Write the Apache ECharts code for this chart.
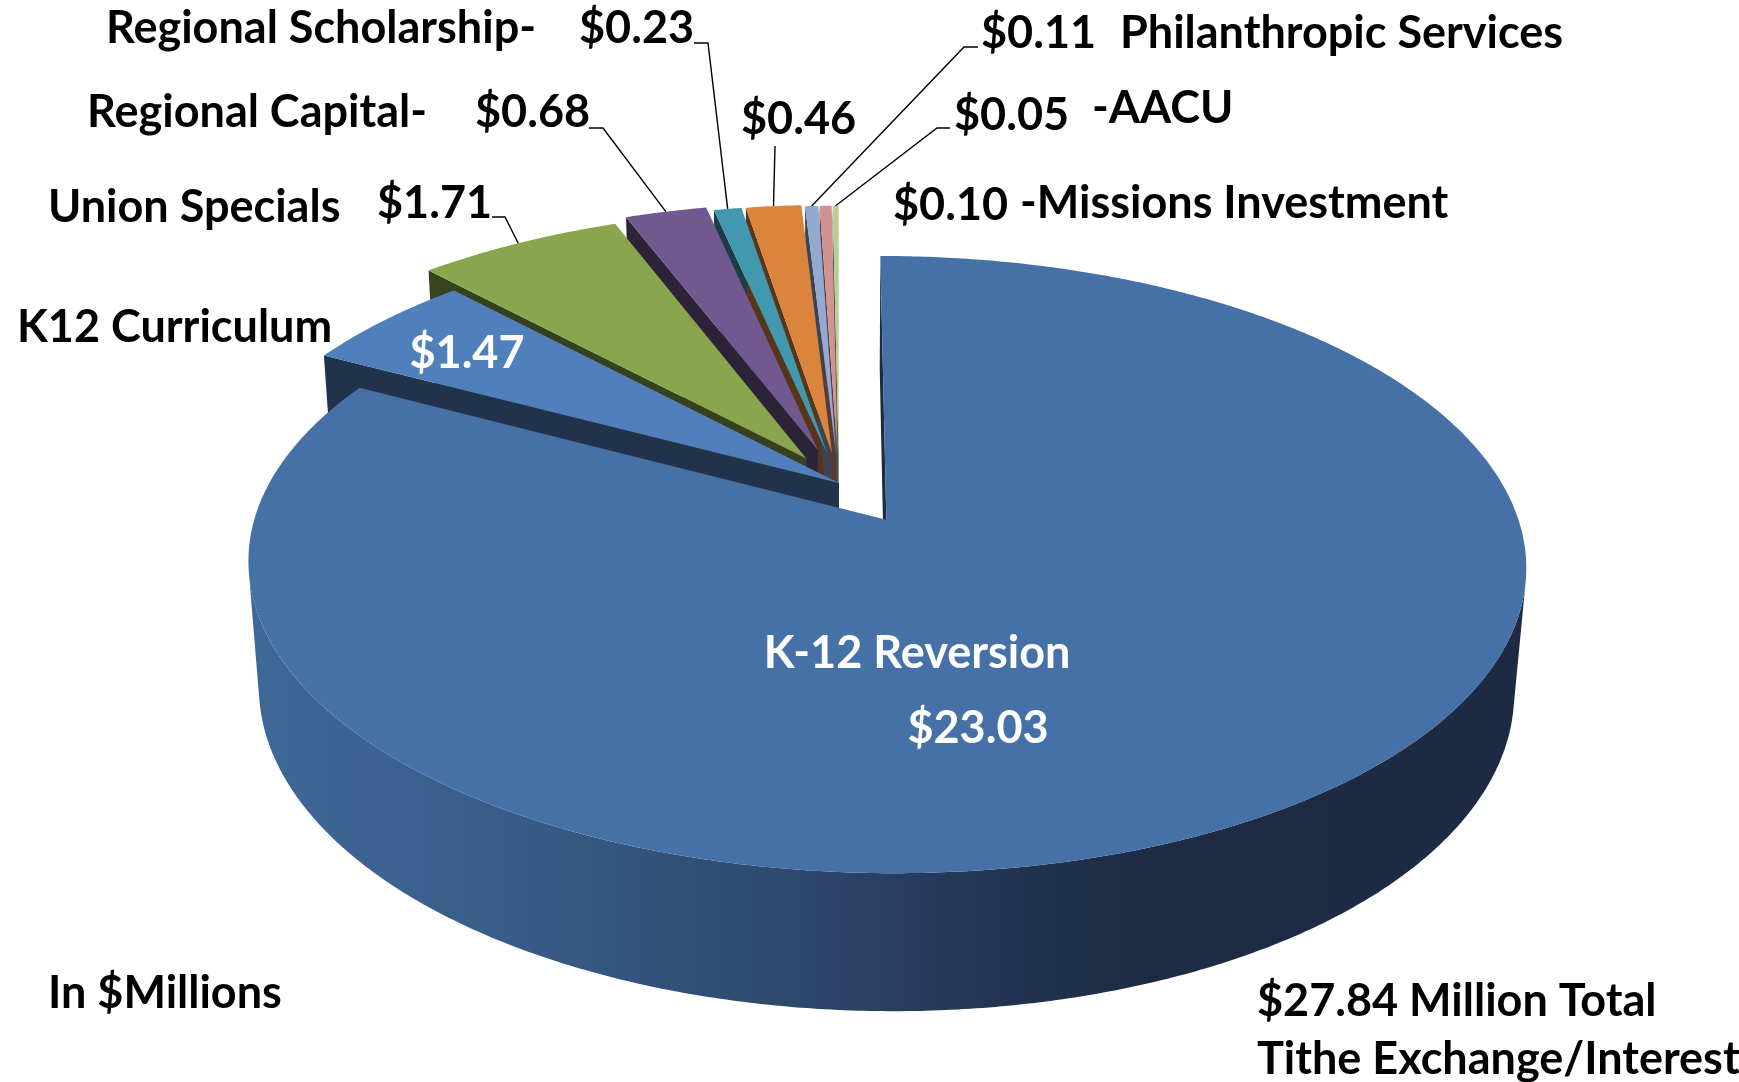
<!DOCTYPE html>
<html>
<head>
<meta charset="utf-8">
<script src="https://cdn.jsdelivr.net/npm/echarts@6/dist/echarts.min.js"></script>
<style>
  html, body { margin: 0; padding: 0; background: #fff; }
  #chart { width: 1739px; height: 1082px; }
</style>
</head>
<body>
<div id="chart"></div>
<script>
// slice data, clockwise from 12 o'clock
const categories = ['K-12 Reversion', 'K12 Curriculum', 'Union Specials', 'Regional Capital-',
  'Regional Scholarship-', '', 'Philanthropic Services', '-Missions Investment', '-AACU'];
const values = [23.03, 1.47, 1.71, 0.68, 0.23, 0.46, 0.11, 0.10, 0.05];
const colors = ['#4571A6', '#4F80BC', '#89A54E', '#71588F', '#4198AF', '#DB843D', '#93A9CF', '#D19392', '#B9CD96'];
const explodeBy = [0.145, 0, 0.1, 0.12, 0.105, 0.105, 0.1, 0.1, 0.1];
const notes = ['In $Millions', '$27.84 Million Total', 'Tithe Exchange/Interest'];

// label placement (pixels), leader line elbows
const labelCfg = [
  { name: [917, 653, 'center', '#fff'], value: [978, 728, 'center', '#fff'] },
  { name: [17, 327, 'left', '#000'], value: [467, 353, 'center', '#fff'] },
  { name: [48, 207, 'left', '#000'], value: [377, 203, 'left', '#000'], line: [[492, 217], [505, 217]] },
  { name: [427, 112, 'right', '#000'], value: [475, 112, 'left', '#000'], line: [[589, 128], [603, 128]] },
  { name: [536, 28, 'right', '#000'], value: [579, 28, 'left', '#000'], line: [[694, 43], [708, 43]] },
  { value: [741, 119, 'left', '#000'], line: [[775, 146]] },
  { value: [981, 33, 'left', '#000'], name: [1120, 33, 'left', '#000'], line: [[978, 47], [964, 47]] },
  { value: [893, 205, 'left', '#000'], name: [1020, 203, 'left', '#000'] },
  { value: [954, 115, 'left', '#000'], name: [1092, 108, 'left', '#000'], line: [[950, 128], [937, 128]] }
];

const FONT = 'Lato';
const FS = 45;

// simple perspective camera for the 3d pie
const view = { cx: 839, cy: 483, F: 3850, D: 6.2, tilt: 28, H: 0.228 };
const sn = Math.sin(view.tilt * Math.PI / 180), cs = Math.cos(view.tilt * Math.PI / 180);

function depth(X, Y, Z) { return view.D - sn * Y - cs * Z; }
function proj(X, Y, Z) {
  const d = depth(X, Y, Z);
  return [view.cx + view.F * X / d, view.cy - view.F * (cs * Y - sn * Z) / d];
}
function shade(hex, k) {
  const n = parseInt(hex.slice(1), 16);
  const r = ((n >> 16) & 255) * k, g = ((n >> 8) & 255) * k, b = (n & 255) * k;
  return 'rgb(' + Math.round(r) + ',' + Math.round(g) + ',' + Math.round(b) + ')';
}

const total = values.reduce((a, b) => a + b, 0);
const startAngles = [], endAngles = [];
let acc = 0;
values.forEach(v => {
  startAngles.push(acc / total * 2 * Math.PI);
  acc += v;
  endAngles.push(acc / total * 2 * Math.PI);
});

function textEl(txt, cfg) {
  return {
    type: 'text', z2: 3000,
    style: {
      text: txt, x: cfg[0], y: cfg[1], fill: cfg[3],
      align: cfg[2], textAlign: cfg[2], verticalAlign: 'middle', textVerticalAlign: 'middle',
      fontFamily: FONT, fontWeight: 'bold', fontSize: FS
    }
  };
}

function renderSlice(params, api) {
  const i = params.dataIndex;
  const val = api.value(0);
  const a0 = startAngles[i], a1 = endAngles[i], am = (a0 + a1) / 2;
  const e = explodeBy[i];
  const ox = e * Math.sin(am), oz = -e * Math.cos(am);
  const H = view.H;
  const rim = (t, y) => proj(ox + Math.sin(t), y, oz - Math.cos(t));
  const children = [];
  const n = Math.max(2, Math.ceil((a1 - a0) / (Math.PI / 360)));
  const ts = [];
  for (let k = 0; k <= n; k++) ts.push(a0 + (a1 - a0) * k / n);

  // top face
  const top = [proj(ox, 0, oz)].concat(ts.map(t => rim(t, 0)));
  children.push({ type: 'polygon', z2: 2000, shape: { points: top }, style: { fill: colors[i] } });

  // outer wall, only the part facing the camera
  const vis = ts.filter(t => -view.D * cs * Math.cos(t) - (Math.sin(t) * ox - Math.cos(t) * oz) - 1 > 0);
  if (vis.length > 1) {
    const pts = vis.map(t => rim(t, 0)).concat(vis.slice().reverse().map(t => rim(t, -H)));
    const tm = vis[Math.floor(vis.length / 2)];
    const dd = depth(ox + Math.sin(tm), -H / 2, oz - Math.cos(tm));
    const fill = i === 0
      ? new echarts.graphic.LinearGradient(0, 0, 1, 0, [
          { offset: 0, color: '#3f6898' },
          { offset: 0.2, color: '#385d8a' },
          { offset: 0.43, color: '#2d486c' },
          { offset: 0.6, color: '#213350' },
          { offset: 0.7, color: '#1d2c44' },
          { offset: 1, color: '#1c2b43' }
        ])
      : shade(colors[i], 0.45);
    children.push({ type: 'polygon', z2: Math.round(1000 - dd * 100), shape: { points: pts }, style: { fill: fill } });
  }

  // radial faces
  [[a0, -1], [a1, 1]].forEach(([t, sg]) => {
    const tc = view.D * cs * Math.sin(t) - Math.cos(t) * ox - Math.sin(t) * oz;
    if (sg * tc <= 0) return;
    const pts = [proj(ox, 0, oz), rim(t, 0), rim(t, -H), proj(ox, -H, oz)];
    const dd = depth(ox + Math.sin(t) / 2, -H / 2, oz - Math.cos(t) / 2);
    children.push({ type: 'polygon', z2: Math.round(1000 - dd * 100), shape: { points: pts },
      style: { fill: shade(colors[i], 0.4) } });
  });

  // labels and leader lines
  const cfg = labelCfg[i];
  if (cfg.name && categories[i]) children.push(textEl(categories[i], cfg.name));
  if (cfg.value) children.push(textEl('$' + val.toFixed(2), cfg.value));
  if (cfg.line) {
    const anchor = rim(am, 0);
    children.push({ type: 'polyline', z2: 3000, shape: { points: cfg.line.concat([anchor]) },
      style: { stroke: '#000', lineWidth: 1.4, fill: null } });
  }
  return { type: 'group', children: children };
}

const chart = echarts.init(document.getElementById('chart'));
chart.setOption({
  backgroundColor: '#fff',
  animation: false,
  graphic: [
    { type: 'text', x: 48, y: 993, style: { text: notes[0], fill: '#000', font: 'bold ' + FS + 'px ' + FONT, textVerticalAlign: 'middle', verticalAlign: 'middle' } },
    { type: 'text', x: 1257, y: 1001, style: { text: notes[1], fill: '#000', font: 'bold ' + FS + 'px ' + FONT, textVerticalAlign: 'middle', verticalAlign: 'middle' } },
    { type: 'text', x: 1257, y: 1059, style: { text: notes[2], fill: '#000', font: 'bold ' + FS + 'px ' + FONT, textVerticalAlign: 'middle', verticalAlign: 'middle' } }
  ],
  series: [{
    type: 'custom',
    coordinateSystem: 'none',
    renderItem: renderSlice,
    data: values.map((v, i) => ({ name: categories[i], value: v }))
  }]
});
</script>
</body>
</html>
